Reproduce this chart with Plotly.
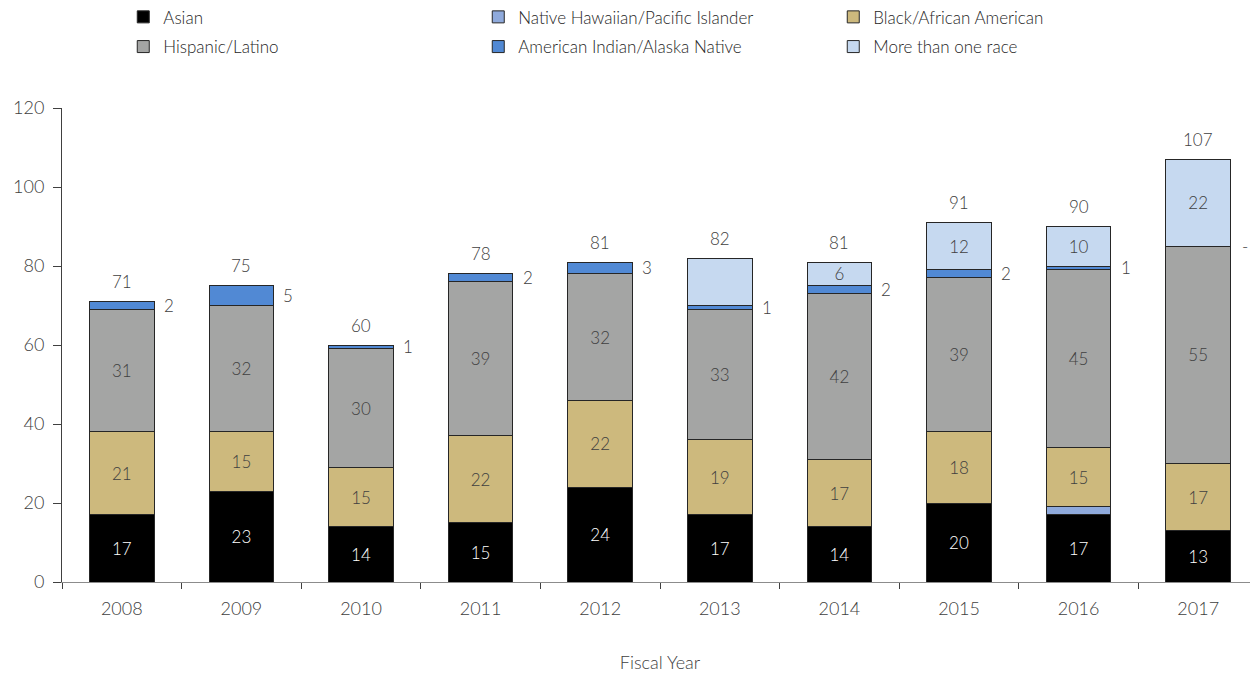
import plotly.graph_objects as go

# Data
years = ['2008', '2009', '2010', '2011', '2012', '2013', '2014', '2015', '2016', '2017']
asian = [17, 23, 14, 15, 24, 17, 14, 20, 17, 13]
native_hawaiian = [0, 0, 0, 0, 0, 0, 0, 0, 2, 0]
black = [21, 15, 15, 22, 22, 19, 17, 18, 15, 17]
hispanic = [31, 32, 30, 39, 32, 33, 42, 39, 45, 55]
american_indian = [2, 5, 1, 2, 3, 1, 2, 2, 1, 0]
multi_race = [0, 0, 0, 0, 0, 12, 6, 12, 10, 22]
totals = [71, 75, 60, 78, 81, 82, 81, 91, 90, 107]
# labels shown in the source (2013 multi-race segment has no label)
multi_labels = ['', '', '', '', '', '', '6', '12', '10', '22']
aian_labels = ['2', '5', '1', '2', '3', '1', '2', '2', '1', '-']

FONT = 'Lato'
TEXT = '#404040'

COLORS = {
    'asian': '#000000',
    'nh': '#8FAADC',
    'black': '#CDB97D',
    'hisp': '#A4A5A4',
    'aian': '#5189D4',
    'multi': '#C6D9F0',
}

fig = go.Figure()


def add_bar(name, vals, color, labels, legend, textcolor=TEXT):
    fig.add_trace(go.Bar(
        x=years, y=vals, name=name,
        marker=dict(color=color, line=dict(color='#262626', width=1)),
        text=labels, textposition='inside', insidetextanchor='middle',
        textangle=0, constraintext='none',
        textfont=dict(family=FONT, size=17, color=textcolor, weight=300),
        legend=legend,
    ))


add_bar('Asian', asian, COLORS['asian'], [str(v) for v in asian], 'legend', '#FFFFFF')
add_bar('Native Hawaiian/Pacific Islander', native_hawaiian, COLORS['nh'],
        ['' for _ in native_hawaiian], 'legend')
add_bar('Black/African American', black, COLORS['black'], [str(v) for v in black], 'legend')
add_bar('Hispanic/Latino', hispanic, COLORS['hisp'], [str(v) for v in hispanic], 'legend2')
add_bar('American Indian/Alaska Native', american_indian, COLORS['aian'],
        ['' for _ in american_indian], 'legend2')
add_bar('More than one race', multi_race, COLORS['multi'], multi_labels, 'legend2')

# totals above bars (x given as category index)
for i, t in enumerate(totals):
    fig.add_annotation(x=i, y=t, text=str(t), showarrow=False, yshift=20,
                       font=dict(family=FONT, size=17, color=TEXT, weight=300))

# American Indian labels to the right of each bar
for i in range(len(years)):
    base = asian[i] + native_hawaiian[i] + black[i] + hispanic[i]
    fig.add_annotation(x=i, y=base + american_indian[i] / 2, text=aian_labels[i],
                       showarrow=False, xshift=47,
                       font=dict(family=FONT, size=17, color=TEXT, weight=300))

leg = dict(orientation='h', xref='container', yref='container',
           x=0.0922, xanchor='left', yanchor='middle',
           entrywidth=310, font=dict(family=FONT, size=17, color='#262626', weight=300),
           bgcolor='rgba(0,0,0,0)', traceorder='normal', itemclick=False)

fig.update_layout(
    barmode='stack',
    bargap=0.46,
    width=1250, height=666,
    margin=dict(l=54, r=0, t=100, b=92, autoexpand=False),
    plot_bgcolor='white', paper_bgcolor='white',
    font=dict(family=FONT, size=17, color=TEXT, weight=300),
    showlegend=True,
    legend=dict(leg, y=0.986),
    legend2=dict(leg, y=0.9414),
)

fig.update_xaxes(
    type='category', range=[-0.5, 9.5],
    showline=True, linecolor='#8C8C8C', linewidth=1,
    ticks='outside', tickson='boundaries', ticklen=6, tickcolor='#404040',
    tickangle=0, ticklabelstandoff=10,
    tickfont=dict(family=FONT, size=18, color=TEXT, weight=300),
    title=dict(text='Fiscal Year', standoff=38,
               font=dict(family=FONT, size=18, color=TEXT, weight=300)),
    showgrid=False,
)
fig.update_yaxes(
    range=[0, 120], dtick=20,
    showline=True, linecolor='#404040', linewidth=1,
    ticks='outside', ticklen=8, tickcolor='#404040', ticklabelstandoff=5,
    tickfont=dict(family=FONT, size=18, color=TEXT, weight=300),
    showgrid=False, zeroline=False,
)

fig.write_html('out.html')
